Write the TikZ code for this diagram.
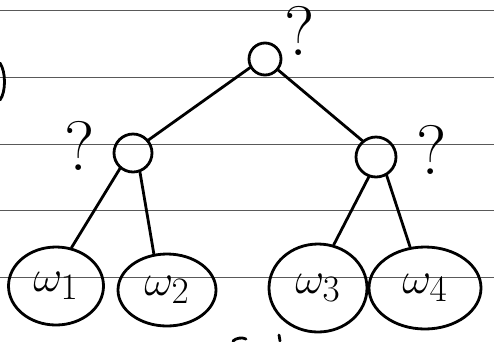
\documentclass[tikz,border=0pt]{standalone}
\usepackage{graphicx}
\usetikzlibrary{shapes.geometric}
\newcommand{\wlab}[1]{\scalebox{1.8}{\fontsize{24.88}{26}\selectfont$\omega_{#1}$}}
\begin{document}
\begin{tikzpicture}[x=1pt,y=-1pt,
  ink/.style={line width=2.8pt,line cap=round,line join=round},
  rule/.style={draw=black!65,line width=0.9pt},
  inner/.style={circle,draw,ink,minimum size=#1,inner sep=0pt},
  leaf/.style={ellipse,draw,ink,inner sep=0pt},
  qmark/.style={font=\fontsize{70}{70}\selectfont,inner sep=0pt}]
\useasboundingbox (0,0) rectangle (494,341);
\fill[white] (0,0) rectangle (494,341);
% ruled lines
\foreach \yy in {10,77,144,210,277} \draw[rule] (0,\yy) -- (494,\yy);
% tree nodes
\node[inner=32pt] (r) at (265,59) {};
\node[inner=38pt] (a) at (133,153) {};
\node[inner=40pt] (b) at (376,157) {};
\node[leaf,minimum width=95pt,minimum height=78pt] (w1) at (56,286) {\wlab{1}};
\node[leaf,minimum width=98pt,minimum height=72pt] (w2) at (167,290) {\wlab{2}};
\node[leaf,minimum width=98pt,minimum height=88pt] (w3) at (318,288) {\wlab{3}};
\node[leaf,minimum width=112pt,minimum height=82pt] (w4) at (425,288) {\wlab{4}};
% question marks
\node[qmark] (q1) at (300,31) {?};
\node[qmark] (q2) at (80,146) {?};
\node[qmark] (q3) at (432,150) {?};
% connectors
\draw[ink] (r.210) -- (a.40);
\draw[ink] (r.-40) -- (b.130);
\draw[ink] (a.230) -- (w1.68);
\draw[ink] (a.-70) -- (w2.110);
\draw[ink] (b.-110) -- (w3.70);
\draw[ink] (b.-60) -- (w4.110);
% cropped fragments at edges
\draw[ink] (0,63) .. controls (6,72) and (6,92) .. (0,100);
\draw[ink] (233,341) .. controls (236,338) and (242,337) .. (246,339);
\draw[ink] (279,335) -- (280,341);
\end{tikzpicture}
\end{document}
